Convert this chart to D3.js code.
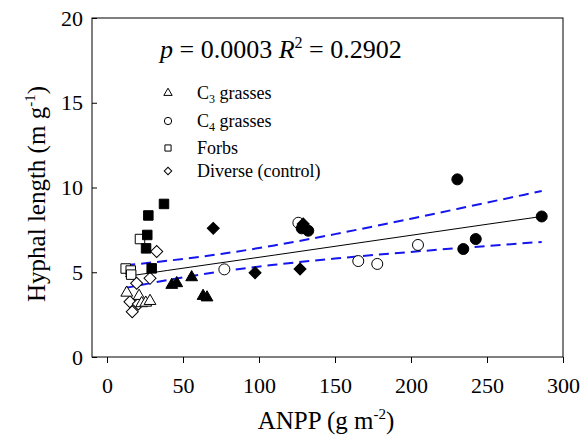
<!DOCTYPE html>
<html><head><meta charset="utf-8">
<script src="https://cdn.jsdelivr.net/npm/d3@7"></script>
<style>body{margin:0;background:#fff}text{font-family:"Liberation Serif","Times New Roman",serif;fill:#000}</style>
</head><body><svg id="c" width="582" height="437"></svg>
<script>
// ---- data ----
const c3OpenX = [13.0, 21.1, 22.8, 25.5, 28.3];
const c3OpenY = [3.79, 3.60, 3.17, 3.20, 3.30];
const c3FillX = [42.6, 45.9, 55.7, 63.2, 65.8];
const c3FillY = [4.25, 4.35, 4.70, 3.60, 3.51];
const c4OpenX = [77.2, 125.9, 165.3, 177.8, 204.6];
const c4OpenY = [5.17, 7.92, 5.66, 5.49, 6.61];
const c4FillX = [128.1, 132.4, 230.5, 234.4, 242.6, 286.0];
const c4FillY = [7.59, 7.45, 10.48, 6.37, 6.96, 8.29];
const forbOpenX = [21.7, 12.3, 15.6, 15.9];
const forbOpenY = [6.96, 5.22, 5.10, 4.86];
const forbFillX = [37.5, 27.2, 26.5, 25.7, 29.4];
const forbFillY = [9.03, 8.35, 7.20, 6.41, 5.23];
const divOpenX = [32.7, 19.5, 28.3, 15.1, 20.6, 16.6];
const divOpenY = [6.22, 4.35, 4.64, 3.26, 3.13, 2.67];
const divFillX = [69.9, 97.4, 127.0, 129.1];
const divFillY = [7.59, 4.97, 5.19, 7.85];
// regression line and 95% confidence band
const fitX   = [12, 40, 75, 110, 150, 200, 250, 286];
const fitY   = [4.745, 5.11, 5.56, 6.01, 6.53, 7.18, 7.83, 8.29];
const upperY = [5.41, 5.68, 6.08, 6.58, 7.25, 8.16, 9.11, 9.79];
const lowerY = [4.07, 4.54, 5.04, 5.44, 5.81, 6.20, 6.55, 6.79];
const xTicks = [0, 50, 100, 150, 200, 250, 300];
const yTicks = [0, 5, 10, 15, 20];
const legendLabels = [["C", "3", " grasses"], ["C", "4", " grasses"], ["Forbs"], ["Diverse (control)"]];
const statText = ["p", " = 0.0003 ", "R", "2", " = 0.2902"];

// ---- drawing ----
const svg = d3.select("#c");
const fl = 92, fr = 563, ft = 18, fb = 357;
const x = d3.scaleLinear().domain([0, 300]).range([107, 563]);
const y = d3.scaleLinear().domain([0, 20]).range([fb, ft]);

svg.append("rect").attr("x", fl).attr("y", ft).attr("width", fr - fl).attr("height", fb - ft)
  .attr("fill", "none").attr("stroke", "#000").attr("stroke-width", 1);

const xa = svg.append("g").attr("transform", `translate(0,${fb})`)
  .call(d3.axisBottom(x).tickValues(xTicks).tickSize(6).tickPadding(14).tickFormat(d3.format("d")));
xa.select(".domain").remove();
xa.selectAll("text").attr("font-size", 22);
const ya = svg.append("g").attr("transform", `translate(${fl},0)`)
  .call(d3.axisRight(y).tickValues(yTicks).tickSize(5).tickFormat(d3.format("d")));
ya.select(".domain").remove();
ya.selectAll("text").attr("font-size", 22).attr("x", -9).attr("text-anchor", "end");

// titles
const xt = svg.append("text").attr("x", 326).attr("y", 429).attr("text-anchor", "middle").attr("font-size", 25);
xt.append("tspan").text("ANPP (g m");
xt.append("tspan").attr("dy", -10).attr("font-size", 15).text("-2");
xt.append("tspan").attr("dy", 10).text(")");
const yt = svg.append("text").attr("transform", "translate(45,194) rotate(-90)").attr("text-anchor", "middle").attr("font-size", 25);
yt.append("tspan").text("Hyphal length (m g");
yt.append("tspan").attr("dy", -10).attr("font-size", 15).text("-1");
yt.append("tspan").attr("dy", 10).text(")");

// lines
const line = (ys) => d3.line().x((d, i) => x(fitX[i])).y((d) => y(d)).curve(d3.curveMonotoneX)(ys);
svg.append("path").attr("d", line(upperY)).attr("fill", "none").attr("stroke", "#1515ee").attr("stroke-width", 2).attr("stroke-dasharray", "10,6");
svg.append("path").attr("d", line(lowerY)).attr("fill", "none").attr("stroke", "#1515ee").attr("stroke-width", 2).attr("stroke-dasharray", "10,6");
svg.append("path").attr("d", line(fitY)).attr("fill", "none").attr("stroke", "#000").attr("stroke-width", 1);

// symbols
const shapes = {
  tri: d3.symbol().type(d3.symbolTriangle).size(60),
  circ: d3.symbol().type(d3.symbolCircle).size(95),
  sq: d3.symbol().type(d3.symbolSquare).size(90),
  dia: d3.symbol().type(d3.symbolSquare).size(72)
};
function pts(xs, ys, shape, filled) {
  svg.append("g").selectAll("path").data(xs).join("path")
    .attr("d", shapes[shape]())
    .attr("transform", (d, i) => `translate(${x(d)},${y(ys[i])})` + (shape === "dia" ? " rotate(45)" : ""))
    .attr("fill", filled ? "#000" : "#fff").attr("stroke", "#000").attr("stroke-width", 1);
}
pts(forbOpenX, forbOpenY, "sq", false);
pts(divOpenX, divOpenY, "dia", false);
pts(c3OpenX, c3OpenY, "tri", false);
pts(c4OpenX, c4OpenY, "circ", false);
pts(forbFillX, forbFillY, "sq", true);
pts(c3FillX, c3FillY, "tri", true);
pts(divFillX, divFillY, "dia", true);
pts(c4FillX, c4FillY, "circ", true);

// stat annotation
const st = svg.append("text").attr("x", 160).attr("y", 58).attr("font-size", 26);
st.append("tspan").attr("font-style", "italic").text(statText[0]);
st.append("tspan").text(statText[1]);
st.append("tspan").attr("font-style", "italic").text(statText[2]);
st.append("tspan").attr("dy", -10).attr("font-size", 16).text(statText[3]);
st.append("tspan").attr("dy", 10).text(statText[4]);

// legend
const legShapes = [d3.symbol().type(d3.symbolTriangle).size(30), d3.symbol().type(d3.symbolCircle).size(42),
  d3.symbol().type(d3.symbolSquare).size(38), d3.symbol().type(d3.symbolSquare).size(28)];
const legY = [93, 121, 148, 171];
legendLabels.forEach((lab, i) => {
  svg.append("path").attr("d", legShapes[i]())
    .attr("transform", `translate(168,${legY[i]})` + (i === 3 ? " rotate(45)" : ""))
    .attr("fill", "#fff").attr("stroke", "#000").attr("stroke-width", 1);
  const t = svg.append("text").attr("x", 197).attr("y", legY[i] + 6).attr("font-size", 18);
  t.append("tspan").text(lab[0]);
  if (lab.length > 1) {
    t.append("tspan").attr("dy", 4).attr("font-size", 12).text(lab[1]);
    t.append("tspan").attr("dy", -4).text(lab[2]);
  }
});
</script></body></html>
